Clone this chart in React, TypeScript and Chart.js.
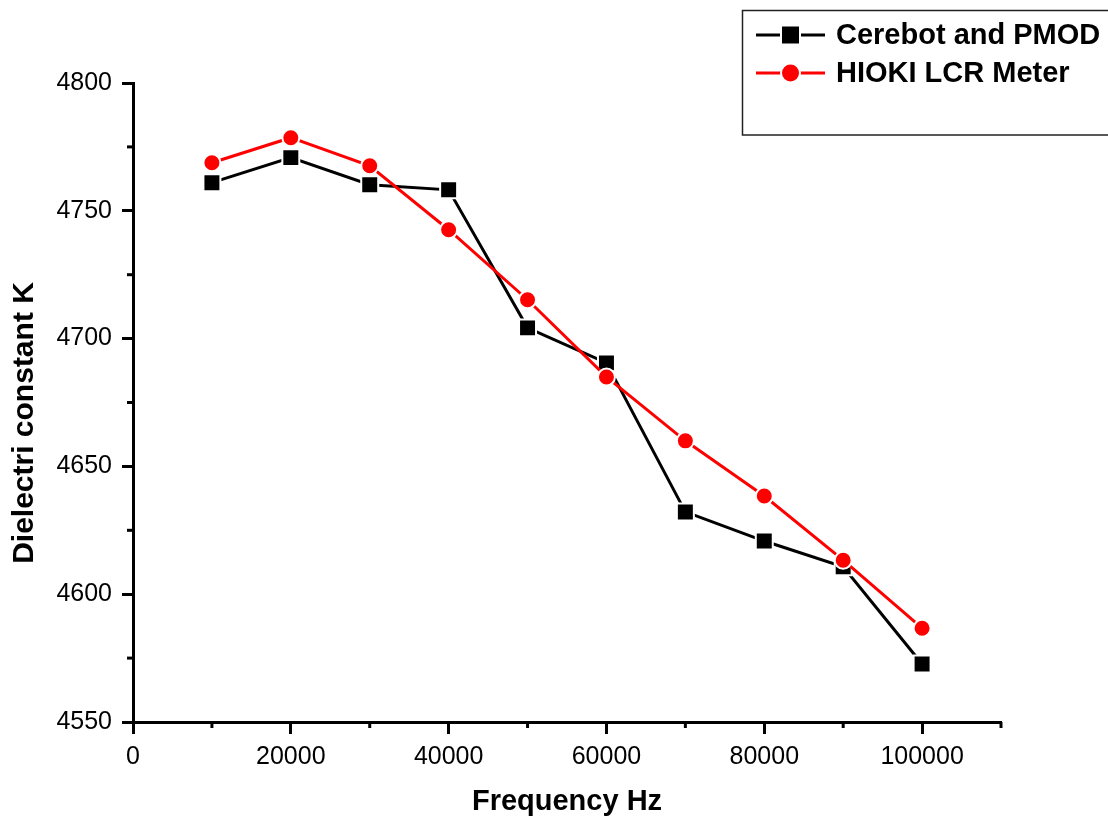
import React, { useEffect, useRef } from 'react';
import { Chart, registerables } from 'chart.js';

Chart.register(...registerables);

const frequencies = [10000, 20000, 30000, 40000, 50000, 60000, 70000, 80000, 90000, 100000];
const cerebotValues = [4761, 4770.8, 4760.2, 4758.2, 4704.2, 4690.5, 4632.2, 4620.8, 4610.7, 4572.7];
const hiokiValues = [4768.8, 4778.6, 4767.6, 4742.6, 4715.2, 4685, 4660, 4638.4, 4613.3, 4586.7];
const seriesLabels = ['Cerebot and PMOD', 'HIOKI LCR Meter'];
const xMajorTicks = [0, 20000, 40000, 60000, 80000, 100000];
const xMinorTicks = [10000, 30000, 50000, 70000, 90000, 110000];
const yMajorTicks = [4550, 4600, 4650, 4700, 4750, 4800];
const yMinorTicks = [4575, 4625, 4675, 4725, 4775];
const xTitle = 'Frequency Hz';
const yTitle = 'Dielectri constant K';

const FONT = "'Liberation Sans', Arial, sans-serif";

const overlayPlugin = {
  id: 'overlay',
  afterDraw(chart: any) {
    const ctx = chart.ctx as CanvasRenderingContext2D;
    const xs = chart.scales.x;
    const ys = chart.scales.y;
    ctx.save();
    // minor ticks
    ctx.strokeStyle = '#000';
    ctx.lineWidth = 3;
    xMinorTicks.forEach((v) => {
      const px = xs.getPixelForValue(v);
      ctx.beginPath();
      ctx.moveTo(px, xs.top);
      ctx.lineTo(px, xs.top + 6);
      ctx.stroke();
    });
    yMinorTicks.forEach((v) => {
      const py = ys.getPixelForValue(v);
      ctx.beginPath();
      ctx.moveTo(ys.right, py);
      ctx.lineTo(ys.right - 6, py);
      ctx.stroke();
    });

    // axis titles
    ctx.fillStyle = '#000';
    ctx.font = `bold 29px ${FONT}`;
    ctx.textAlign = 'center';
    ctx.textBaseline = 'middle';
    const area = chart.chartArea;
    ctx.fillText(xTitle, (area.left + area.right) / 2, 802);
    ctx.save();
    ctx.translate(25, 423);
    ctx.rotate(-Math.PI / 2);
    ctx.font = `bold 30px ${FONT}`;
    ctx.fillText(yTitle, 0, 0);
    ctx.restore();

    // legend
    ctx.strokeStyle = '#222';
    ctx.lineWidth = 1.5;
    ctx.strokeRect(742.5, 10.5, 400, 124.5);
    const rows = [35, 73];
    chart.data.datasets.forEach((ds: any, i: number) => {
      const yy = rows[i];
      ctx.strokeStyle = ds.borderColor;
      ctx.lineWidth = 3;
      ctx.beginPath();
      ctx.moveTo(756, yy);
      ctx.lineTo(825, yy);
      ctx.stroke();
      const cx = 790.5;
      ctx.fillStyle = ds.pointBackgroundColor;
      ctx.strokeStyle = '#fff';
      ctx.lineWidth = 2;
      ctx.beginPath();
      if (ds.pointStyle === 'rect') {
        ctx.rect(cx - 9.5, yy - 9.5, 19, 19);
      } else {
        ctx.arc(cx, yy, 9.5, 0, Math.PI * 2);
      }
      ctx.fill();
      ctx.stroke();
      ctx.fillStyle = '#000';
      ctx.font = `bold 29px ${FONT}`;
      ctx.textAlign = 'left';
      ctx.textBaseline = 'middle';
      ctx.fillText(ds.label, 836, yy + 1);
    });
    ctx.restore();
  },
};

export default function App() {
  const canvasRef = useRef<HTMLCanvasElement | null>(null);

  useEffect(() => {
    document.body.style.margin = '0';
    const canvas = canvasRef.current;
    if (!canvas) return;
    const chart = new Chart(canvas, {
      type: 'line',
      data: {
        datasets: [
          {
            label: seriesLabels[0],
            data: frequencies.map((f, i) => ({ x: f, y: cerebotValues[i] })),
            borderColor: '#000000',
            backgroundColor: '#000000',
            pointBackgroundColor: '#000000',
            pointBorderColor: '#ffffff',
            pointBorderWidth: 2,
            pointStyle: 'rect',
            pointRadius: 12,
            borderWidth: 3,
            tension: 0,
            order: 1,
          },
          {
            label: seriesLabels[1],
            data: frequencies.map((f, i) => ({ x: f, y: hiokiValues[i] })),
            borderColor: '#ff0000',
            backgroundColor: '#ff0000',
            pointBackgroundColor: '#ff0000',
            pointBorderColor: '#ffffff',
            pointBorderWidth: 2,
            pointStyle: 'circle',
            pointRadius: 8.5,
            borderWidth: 3,
            tension: 0,
            order: 0,
          },
        ],
      },
      options: {
        responsive: false,
        animation: false,
        layout: { padding: { left: 0, top: 83, right: 107, bottom: 0 } },
        plugins: {
          legend: { display: false },
          tooltip: { enabled: false },
          title: { display: false },
        },
        scales: {
          x: {
            type: 'linear',
            min: 0,
            max: 110000,
            afterBuildTicks: (scale: any) => {
              scale.ticks = xMajorTicks.map((v) => ({ value: v }));
            },
            afterFit: (scale: any) => {
              scale.height = 96;
            },
            grid: {
              display: true,
              drawOnChartArea: false,
              drawTicks: true,
              tickLength: 12,
              tickWidth: 3,
              tickColor: '#000',
            },
            border: { display: true, color: '#000', width: 3 },
            ticks: {
              color: '#000',
              font: { family: FONT, size: 25 },
              padding: 8,
              maxRotation: 0,
              autoSkip: false,
              callback: (v: any) => String(v),
            },
          },
          y: {
            type: 'linear',
            min: 4550,
            max: 4800,
            afterBuildTicks: (scale: any) => {
              scale.ticks = yMajorTicks.map((v) => ({ value: v }));
            },
            afterFit: (scale: any) => {
              scale.width = 133;
            },
            grid: {
              display: true,
              drawOnChartArea: false,
              drawTicks: true,
              tickLength: 11,
              tickWidth: 3,
              tickColor: '#000',
            },
            border: { display: true, color: '#000', width: 3 },
            ticks: {
              color: '#000',
              font: { family: FONT, size: 25 },
              padding: 10,
              autoSkip: false,
              callback: (v: any) => String(v),
            },
          },
        },
      },
      plugins: [overlayPlugin],
    } as any);
    return () => chart.destroy();
  }, []);

  return (
    <canvas ref={canvasRef} width={1108} height={818} style={{ display: 'block' }} />
  );
}
